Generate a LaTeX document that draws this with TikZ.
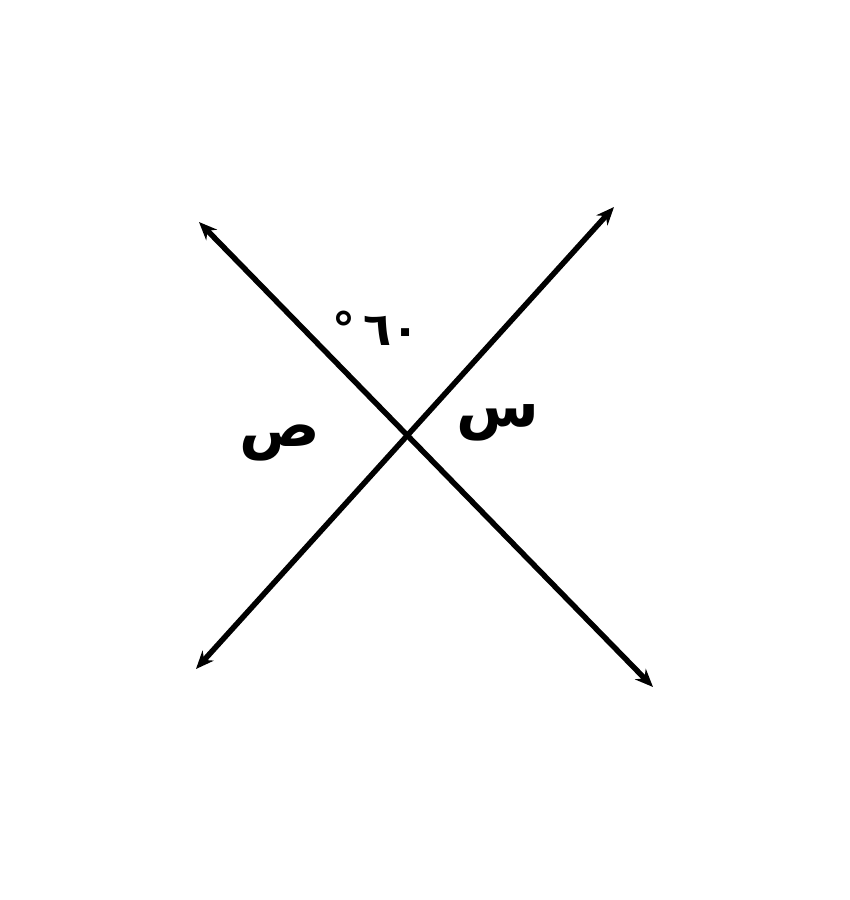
\documentclass[tikz,border=0pt]{standalone}
\usepackage{fontspec}
\usetikzlibrary{arrows.meta}
\TeXXeTstate=1
\newfontfamily\arabicfont[Script=Arabic]{DejaVu Sans}
\begin{document}
\begin{tikzpicture}[x=1pt,y=-1pt,
  lineA/.style={line width=5.5pt,{Stealth[length=18pt,width=15pt]}-{Stealth[length=18pt,width=15pt]}},
  lbl/.style={font=\arabicfont\bfseries\fontsize{60}{60}\selectfont, inner sep=0pt}]
\useasboundingbox (0,0) rectangle (850,900);
\fill[white] (0,0) rectangle (850,900);
\coordinate (a1) at (199,222);
\coordinate (a2) at (653,687);
\coordinate (b1) at (196,669);
\coordinate (b2) at (614,207);
\draw[lineA] (a1) -- (a2);
\draw[lineA] (b1) -- (b2);
\node[lbl, font=\arabicfont\bfseries\fontsize{46}{46}\selectfont] (ang) at (376,328) {\beginL °\,٦٠\endL};
\node[lbl] (s) at (280,443) {\beginR ص\endR};
\node[lbl] (x) at (498,423) {\beginR س\endR};
\end{tikzpicture}
\end{document}
